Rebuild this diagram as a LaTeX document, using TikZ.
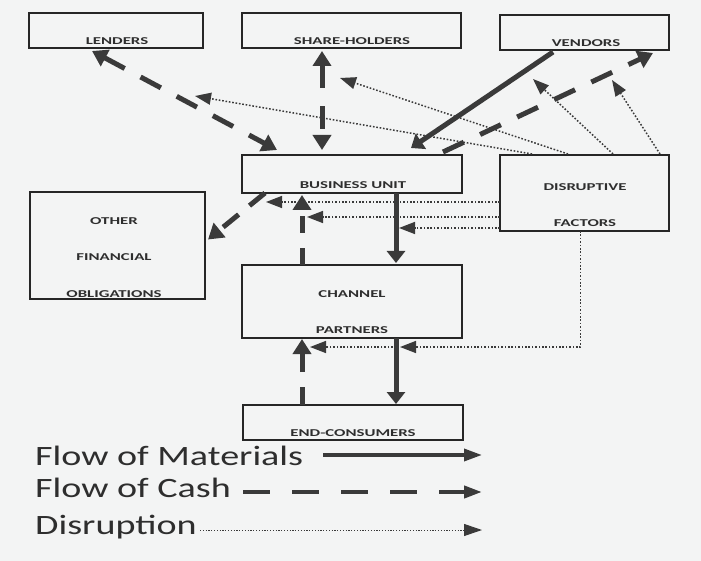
\documentclass[tikz,border=0pt]{standalone}
\usepackage{fontspec}
\setmainfont{Carlito}[FakeStretch=1.36]
\newfontfamily\boxfont{Carlito}[FakeStretch=1.6]
\usetikzlibrary{arrows.meta}
\definecolor{bgc}{HTML}{F3F4F4}
\definecolor{arc}{HTML}{3A3A3A}
\definecolor{boxc}{HTML}{262626}
\definecolor{txtc}{HTML}{2E2E2E}
\tikzset{
 box/.style={draw=boxc, line width=1.4pt, inner sep=0pt, outer sep=0pt, rectangle},
 lbl/.style={anchor=base, font=\boxfont\bfseries\fontsize{10.5}{12}\selectfont, text=txtc, inner sep=0pt},
 mat/.style={draw=arc, line width=5pt, -{Triangle[length=12pt,width=18pt]}},
 cash/.style={draw=arc, line width=5pt, dash pattern=on 23pt off 18pt},
 ctip/.style={-{Triangle[length=15pt,width=18pt]}},
 dctip/.style={{Triangle[length=15pt,width=18pt]}-{Triangle[length=15pt,width=18pt]}},
 dis/.style={draw=arc, line width=1.5pt, dash pattern=on 1.6pt off 1.8pt, -{Triangle[length=16pt,width=12pt]}},
 leg/.style={anchor=base west, font=\fontsize{28}{30}\selectfont, text=txtc, inner sep=0pt},
 legtip/.style={-{Triangle[length=18pt,width=12pt]}},
}
\begin{document}
\begin{tikzpicture}[x=1pt,y=-1pt]
\fill[bgc] (0,0) rectangle (701,561);
\useasboundingbox (0,0) rectangle (701,561);

% boxes
\node[box, minimum width=174pt, minimum height=35pt] (lend) at (116,30.5) {};
\node[box, minimum width=219pt, minimum height=35pt] (share) at (351.5,30.5) {};
\node[box, minimum width=169pt, minimum height=35pt] (vend) at (584.5,32.5) {};
\node[box, line width=2.4pt, minimum width=220pt, minimum height=38pt] (bu) at (352,174) {};
\node[box, minimum width=169pt, minimum height=76pt] (dis) at (584.5,193) {};
\node[box, minimum width=175pt, minimum height=107pt] (ofo) at (117.5,245.5) {};
\node[box, minimum width=220pt, minimum height=73pt] (cp) at (352,301.5) {};
\node[box, minimum width=220pt, minimum height=35pt] (ec) at (353,422.5) {};

% labels
\node[lbl] (lendT) at (117,45) {LENDERS};
\node[lbl] (shareT) at (352,45) {SHARE-HOLDERS};
\node[lbl] (vendT) at (586,47) {VENDORS};
\node[lbl] (buT) at (353,188.5) {BUSINESS UNIT};
\node[lbl] (disT1) at (585,191) {DISRUPTIVE};
\node[lbl] (disT2) at (585,227) {FACTORS};
\node[lbl] (ofoT1) at (114,225) {OTHER};
\node[lbl] (ofoT2) at (114,261) {FINANCIAL};
\node[lbl] (ofoT3) at (114,297) {OBLIGATIONS};
\node[lbl] (cpT1) at (352,297) {CHANNEL};
\node[lbl] (cpT2) at (352,333) {PARTNERS};
\node[lbl] (ecT) at (353,436) {END-CONSUMERS};

% flows of cash and materials
\draw[cash, dctip] ([shift={(-24,3)}]lend.south) -- ([shift={(-75,-5)}]bu.north);
\draw[cash, dctip] ([shift={(-29.5,3)}]share.south) -- ([shift={(-30,-5)}]bu.north);
\draw[mat] ([shift={(-31.5,2)}]vend.south) -- ([shift={(59,-7)}]bu.north);
\draw[cash, ctip] ([shift={(91,-3)}]bu.north) -- ([shift={(68.5,3)}]vend.south);
\draw[cash, ctip, dash pattern=on 20pt off 14pt] ([shift={(23,0)}]bu.south west) -- ([shift={(3,-6)}]ofo.east);
\draw[cash, ctip, dash pattern=on 17pt off 15pt] ([xshift=-50pt]cp.north) -- ([shift={(-50,2)}]bu.south);
\draw[mat] ([xshift=44pt]bu.south) -- ([shift={(44,-2)}]cp.north);
\draw[cash, ctip, dash pattern=on 18pt off 15pt] ([xshift=-51pt]ec.north) -- ([shift={(-50,1)}]cp.south);
\draw[mat] ([xshift=44pt]cp.south) -- ([shift={(43,-1)}]ec.north);

% disruption
\coordinate (dS) at (340,78);
\coordinate (dL) at (195,96);
\coordinate (dV1) at (533,79);
\coordinate (dV2) at (612,80);
\draw[dis] ([shift={(68,-1)}]dis.north west) -- (dS);
\draw[dis] ([shift={(32,-1)}]dis.north west) -- (dL);
\draw[dis] ([shift={(113,-1)}]dis.north west) -- (dV1);
\draw[dis] ([shift={(160,-1)}]dis.north west) -- (dV2);
\coordinate (h1) at (266,202);
\coordinate (h2) at (307,217);
\coordinate (h3) at (399,228);
\draw[dis] (dis.west |- h1) -- (h1);
\draw[dis] (dis.west |- h2) -- (h2);
\draw[dis] (dis.west |- h3) -- (h3);
\coordinate (b1) at (400,347);
\coordinate (b0) at (396,347);
\coordinate (b2) at (310,347);
\draw[dis] ([xshift=-4pt]dis.south) |- (b1);
\draw[dis] (b0) -- (b2);

% legend
\node[leg] (legM) at (35,465) {Flow of Materials};
\node[leg] (legC) at (35,497) {Flow of Cash};
\node[leg] (legD) at (35,534) {Disruption};
\coordinate (mS) at (323,455);
\coordinate (mE) at (482,455);
\coordinate (cS) at (243,492);
\coordinate (cE) at (482,492);
\coordinate (sS) at (200,530);
\coordinate (sE) at (482,530);
\draw[arc, line width=3.5pt, legtip] (mS) -- (mE);
\draw[arc, line width=4pt, dash pattern=on 27pt off 22pt, legtip] (cS) -- (cE);
\draw[arc, line width=1pt, dash pattern=on 1.2pt off 1.6pt, legtip] (sS) -- (sE);
\end{tikzpicture}
\end{document}
